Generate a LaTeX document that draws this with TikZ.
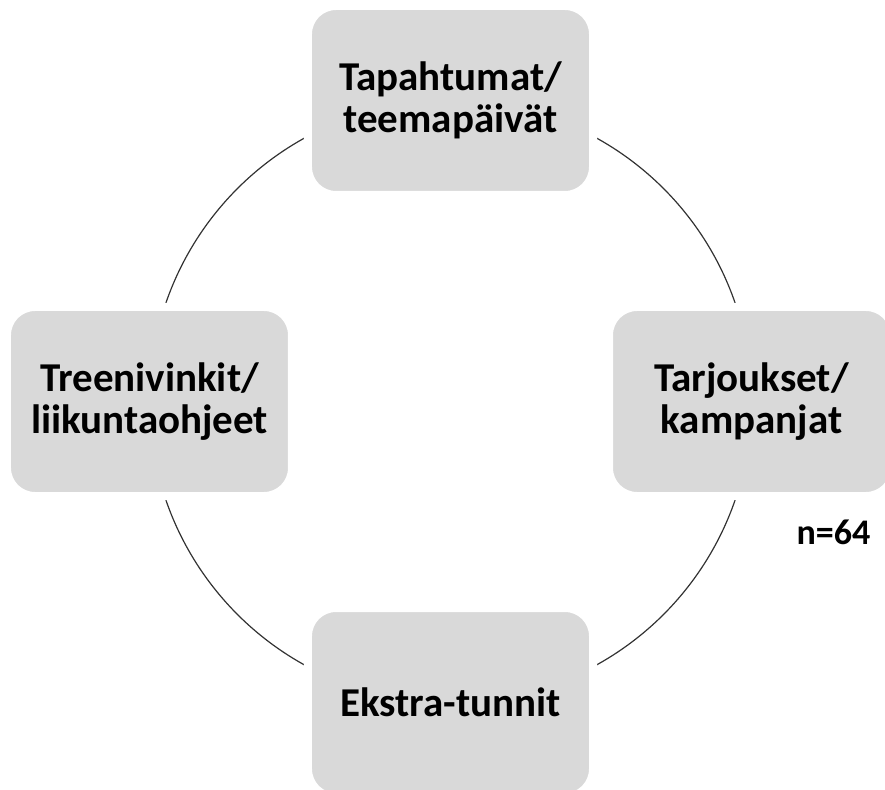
\documentclass[tikz,border=0pt]{standalone}
\usepackage{fontspec}
\setmainfont{Carlito}
\usetikzlibrary{backgrounds}

\begin{document}
\begin{tikzpicture}[
        x=1pt, y=1pt,
        box/.style={rectangle, draw=white, line width=8pt, fill=gray!30, rounded corners=28pt, minimum width=285pt, minimum height=189pt, inner sep=0pt, align=center, font=\fontsize{41}{42}\selectfont\bfseries},
        ring/.style={draw=black!80, line width=1.2pt},
        note/.style={font=\fontsize{36}{40}\selectfont\bfseries}
    ]
    \useasboundingbox (-450.5,-387.5) rectangle (434.5,401.5);

    % Nodes round the ring
    \node[box] (events) at (90:301) {Tapahtumat/\\teemapäivät};
    \node[box] (offers) at (0:301) {Tarjoukset/\\kampanjat};
    \node[box] (extra) at (-90:301) {Ekstra-tunnit};
    \node[box] (tips) at (180:301) {Treenivinkit/\\liikuntaohjeet};
    \node[note] (n) at (383,-131) {n=64};

    % Ring behind the boxes
    \begin{scope}[on background layer]
        \draw[ring] (events.center) to[out=0, in=90] (offers.center);
        \draw[ring] (offers.center) to[out=-90, in=0] (extra.center);
        \draw[ring] (extra.center) to[out=180, in=-90] (tips.center);
        \draw[ring] (tips.center) to[out=90, in=180] (events.center);
    \end{scope}

\end{tikzpicture}
\end{document}
